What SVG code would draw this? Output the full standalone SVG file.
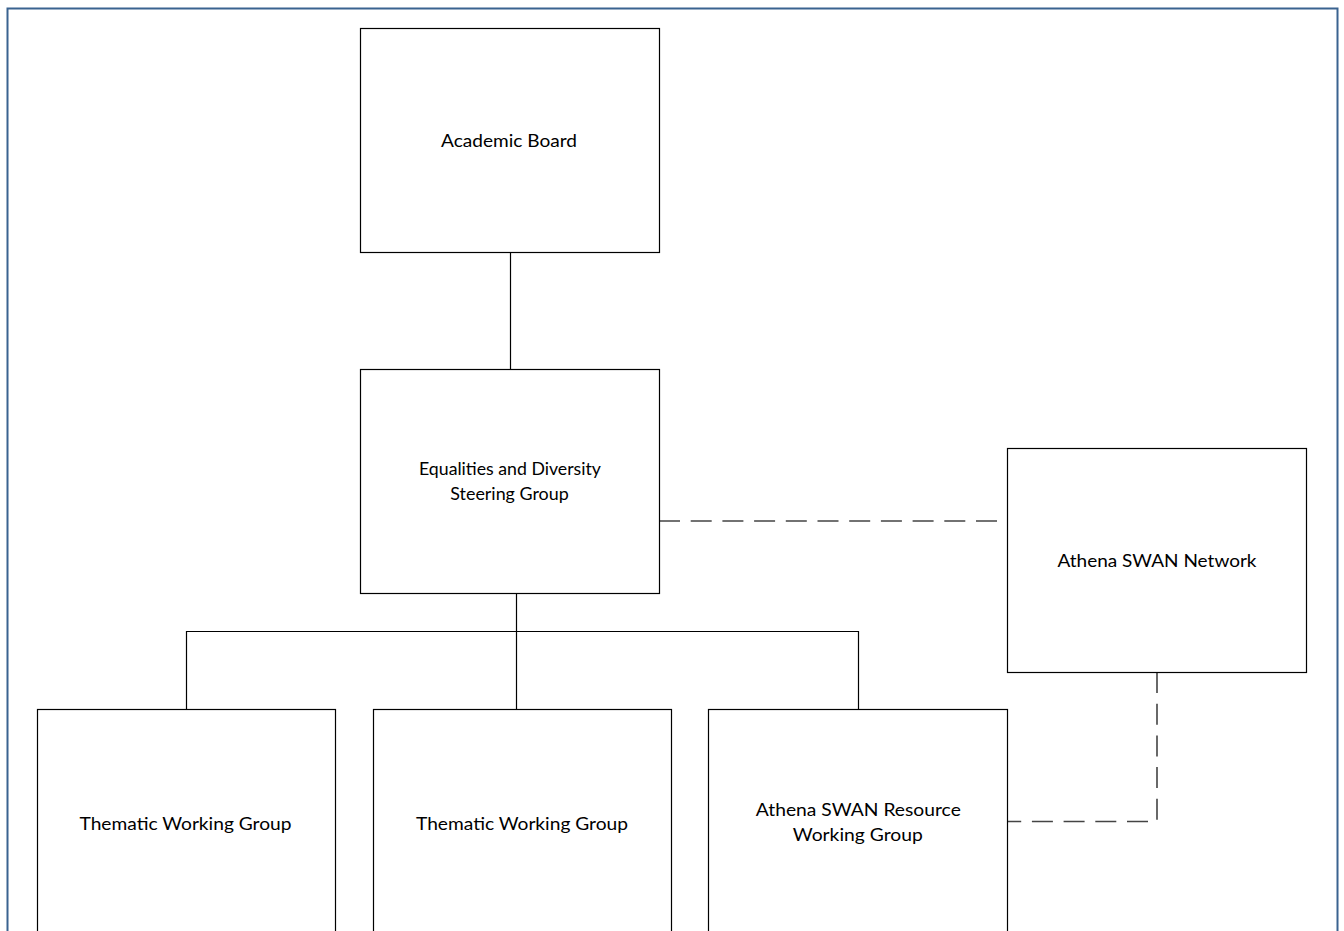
<svg xmlns="http://www.w3.org/2000/svg" width="1344" height="931" viewBox="0 0 1344 931">
  <style>
    .node rect { fill: #ffffff; stroke: #000000; stroke-width: 1.2; }
    .node text { font-family: Lato, "Open Sans", "Liberation Sans", sans-serif; font-size: 17.5px; fill: #000000; text-anchor: middle; }
    .solid { fill: none; stroke: #000000; stroke-width: 1.2; }
    .dashed { fill: none; stroke: #444444; stroke-width: 1.6; stroke-dasharray: 21 10.7; }
  </style>
  <rect x="0" y="0" width="1344" height="931" fill="#ffffff"/>
  <rect id="frame" x="7.5" y="8.5" width="1330" height="960" fill="none" stroke="#3a6390" stroke-width="2"/>

  <g id="connectors">
    <line class="solid" x1="510.5" y1="252" x2="510.5" y2="369"/>
    <line class="solid" x1="516.5" y1="593" x2="516.5" y2="709"/>
    <polyline class="solid" points="186.5,710 186.5,631.5 858.5,631.5 858.5,710"/>
    <line class="dashed" x1="659" y1="521" x2="1007" y2="521"/>
    <polyline class="dashed" points="1157,672 1157,821.5 1007,821.5"/>
  </g>

  <g id="academic-board" class="node">
    <rect x="360.5" y="28.5" width="299" height="224"/>
    <text x="509" y="146.5" textLength="136" lengthAdjust="spacingAndGlyphs">Academic Board</text>
  </g>

  <g id="equalities-steering" class="node">
    <rect x="360.5" y="369.5" width="299" height="224"/>
    <text x="510" y="474.5" textLength="182" lengthAdjust="spacingAndGlyphs">Equalities and Diversity</text>
    <text x="509.5" y="499.5" textLength="118.5" lengthAdjust="spacingAndGlyphs">Steering Group</text>
  </g>

  <g id="athena-network" class="node">
    <rect x="1007.5" y="448.5" width="299" height="224"/>
    <text x="1157" y="566.5" textLength="199" lengthAdjust="spacingAndGlyphs">Athena SWAN Network</text>
  </g>

  <g id="thematic-1" class="node">
    <rect x="37.5" y="709.5" width="298" height="250"/>
    <text x="185.5" y="829.5" textLength="212" lengthAdjust="spacingAndGlyphs">Thematic Working Group</text>
  </g>

  <g id="thematic-2" class="node">
    <rect x="373.5" y="709.5" width="298" height="250"/>
    <text x="522" y="829.5" textLength="212" lengthAdjust="spacingAndGlyphs">Thematic Working Group</text>
  </g>

  <g id="athena-resource" class="node">
    <rect x="708.5" y="709.5" width="299" height="250"/>
    <text x="858.3" y="816" textLength="205" lengthAdjust="spacingAndGlyphs">Athena SWAN Resource</text>
    <text x="857.8" y="841" textLength="130" lengthAdjust="spacingAndGlyphs">Working Group</text>
  </g>
</svg>
